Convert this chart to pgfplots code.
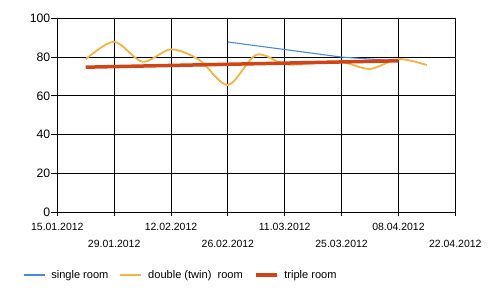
\documentclass[border=0pt]{standalone}
\usepackage{fontspec}
\setmainfont{Liberation Sans}
\usepackage{pgfplots}
\pgfplotsset{compat=1.18}
\definecolor{cblue}{RGB}{74,134,232}
\definecolor{corange}{RGB}{246,178,66}
\definecolor{cred}{RGB}{210,68,22}
\begin{document}
\begin{tikzpicture}
\useasboundingbox (0,0) rectangle (500bp,296bp);
\begin{axis}[
  at={(57.3bp,83.7bp)}, anchor=south west,
  scale only axis, width=398bp, height=194bp,
  xmin=0, xmax=98, ymin=0, ymax=100,
  xtick={0,28,56,84},
  xticklabels={15.01.2012,12.02.2012,11.03.2012,08.04.2012},
  extra x ticks={14,42,70,98},
  extra x tick labels={29.01.2012,26.02.2012,25.03.2012,22.04.2012},
  extra x tick style={xticklabel style={yshift=-16.5bp}},
  ytick={0,20,40,60,80,100},
  xtick pos=bottom, ytick pos=left,
  tick align=outside, major tick length=6.5bp,
  tick style={black, line width=0.8bp},
  x tick style={yshift=2.5bp},
  grid=major, grid style={black, line width=0.8bp},
  axis line style={black, line width=0.8bp},
  xticklabel style={font=\fontsize{10.5}{12}\selectfont, yshift=-1bp},
  yticklabel style={font=\fontsize{12.3}{14}\selectfont, xshift=3bp},
  /pgf/number format/assume math mode=true,
  legend columns=3,
  legend style={at={(-0.0937,-0.323)}, anchor=west, draw=none, fill=none,
    font=\fontsize{11.1}{13}\selectfont,
    /tikz/every odd column/.append style={column sep=4bp},
    /tikz/every even column/.append style={column sep=9bp}},
  legend image code/.code={\draw[#1] (0bp,0bp) -- (21bp,0bp);},
  clip=false,
]
\addplot[cblue, line width=1.1bp] coordinates {(42,87.8) (70,80) (84,78)};
\addlegendentry{single room}
\addplot[corange, line width=1.8bp, smooth] coordinates {
(7,78.9) (14,87.9) (21,77.6) (28,84.0) (35,78.5) (42,65.6) (49,81.2)
(56,76.3) (63,76.8) (70,77.5) (77,73.9) (84,79.0) (91,75.9)};
\addlegendentry{double (twin)\ \ room}
\addplot[cred, line width=3.5bp] coordinates {
(7,74.8) (14,75.1) (21,75.4) (28,75.7) (35,76.0) (42,76.3) (49,76.6)
(56,76.9) (63,77.2) (70,77.5) (77,77.8) (84,78.1)};
\addlegendentry{triple room}
\end{axis}
\end{tikzpicture}
\end{document}
